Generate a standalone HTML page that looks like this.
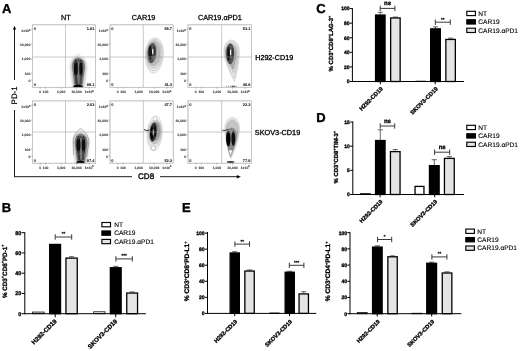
<!DOCTYPE html>
<html><head><meta charset="utf-8"><title>Figure</title>
<style>html,body{margin:0;padding:0;background:#fff}svg{display:block}</style></head>
<body>
<svg width="520" height="351" viewBox="0 0 520 351" font-family='"Liberation Sans", Arial, sans-serif' text-rendering="geometricPrecision">
<defs>
<filter id="b1" x="-50%" y="-50%" width="200%" height="200%"><feGaussianBlur stdDeviation="1.1"/></filter>
<filter id="b2" x="-50%" y="-50%" width="200%" height="200%"><feGaussianBlur stdDeviation="0.9"/></filter>
<filter id="b3" x="-50%" y="-50%" width="200%" height="200%"><feGaussianBlur stdDeviation="0.45"/></filter>
<filter id="b4" x="-50%" y="-50%" width="200%" height="200%"><feGaussianBlur stdDeviation="0.65"/></filter>
</defs>
<rect width="520" height="351" fill="#fff"/>
<g>
<text x="2.1" y="12.7" font-size="13" font-weight="bold" stroke="#000" stroke-width="0.35">A</text>
<text x="65.80" y="20.40" font-size="7.3" font-weight="normal" text-anchor="middle" fill="#000" stroke="#000" stroke-width="0.26" >NT</text>
<text x="143.60" y="20.40" font-size="7.3" font-weight="normal" text-anchor="middle" fill="#000" stroke="#000" stroke-width="0.26" >CAR19</text>
<text x="219.90" y="20.40" font-size="7.3" font-weight="normal" text-anchor="middle" fill="#000" stroke="#000" stroke-width="0.26" >CAR19.αPD1</text>
<text x="255.20" y="59.90" font-size="7.2" font-weight="normal" text-anchor="start" fill="#000" stroke="#000" stroke-width="0.3" >H292-CD19</text>
<text x="254.80" y="135.00" font-size="7.3" font-weight="normal" text-anchor="start" fill="#000" stroke="#000" stroke-width="0.3" >SKOV3-CD19</text>
<line x1="14.50" y1="29.00" x2="14.50" y2="80.00" stroke="#000" stroke-width="0.9" />
<line x1="14.50" y1="110.00" x2="14.50" y2="176.70" stroke="#000" stroke-width="0.9" />
<path d="M14.5,25.8 L12.9,29.6 L16.1,29.6 Z" fill="#000"/>
<line x1="14.05" y1="176.70" x2="132.00" y2="176.70" stroke="#000" stroke-width="0.9" />
<line x1="160.00" y1="176.70" x2="237.50" y2="176.70" stroke="#000" stroke-width="0.9" />
<path d="M240.8,176.7 L236.8,174.9 L236.8,178.5 Z" fill="#000"/>
<text transform="translate(17.1,95.4) rotate(-90)" font-size="7.9" text-anchor="middle" stroke="#000" stroke-width="0.2">PD-1</text>
<text x="146.10" y="179.30" font-size="8.1" font-weight="normal" text-anchor="middle" fill="#000" stroke="#000" stroke-width="0.35" >CD8</text>
<rect x="32.50" y="24.80" width="63.00" height="62.50" fill="#fff" stroke="#c2c2c2" stroke-width="0.7"/>
<clipPath id="cp1"><rect x="32.50" y="24.80" width="63.00" height="62.50"/></clipPath><g clip-path="url(#cp1)">
<g filter="url(#b1)"><path d="M74.6,87.3 L72.0,66.6 Q72.3,58.6 77.9,57.6 Q84.8,58.6 85.0,67.6 L82.2,87.3 Z" fill="#c0c0c0" stroke="#c0c0c0" stroke-width="3.4"/>
<path d="M75.4,59.6 L78.4,53.1 L81.4,59.6 Z" fill="#d8d8d8"/></g>
<g filter="url(#b4)"><path d="M74.6,87.3 L72.0,66.6 Q72.3,58.6 77.9,57.6 Q84.8,58.6 85.0,67.6 L82.2,87.3 Z" fill="#787878"/></g>
<g filter="url(#b4)">
<ellipse cx="75.9" cy="68.5" rx="2.0" ry="9.0" fill="#0a0a0a"/>
<ellipse cx="81.0" cy="68.8" rx="1.8" ry="9.0" fill="#0e0e0e"/>
<path d="M75.2,62.7 Q78.4,57.9 81.6,62.9" stroke="#4a4a4a" stroke-width="1.6" fill="none"/>
<path d="M75.8,74.5 L76.8,84.3" stroke="#3a3a3a" stroke-width="2.2" fill="none"/>
<path d="M81.0,74.5 L80.4,84.3" stroke="#444" stroke-width="2.0" fill="none"/>
</g>
<g filter="url(#b3)"><ellipse cx="78.0" cy="87.5" rx="5.2" ry="3.0" fill="#050505"/></g>
</g>
<rect x="32.50" y="24.80" width="63.00" height="62.50" fill="none" stroke="#c2c2c2" stroke-width="0.7"/>
<line x1="65.50" y1="24.80" x2="65.50" y2="87.30" stroke="#a0a0a0" stroke-width="0.55" />
<line x1="32.50" y1="57.00" x2="95.50" y2="57.00" stroke="#a0a0a0" stroke-width="0.55" />
<text x="33.70" y="29.80" font-size="3.9" font-weight="bold" text-anchor="start" fill="#303030" stroke="#303030" stroke-width="0.1" >0</text>
<text x="94.30" y="29.80" font-size="3.9" font-weight="bold" text-anchor="end" fill="#303030" stroke="#303030" stroke-width="0.1" >1.91</text>
<text x="33.70" y="86.30" font-size="3.9" font-weight="bold" text-anchor="start" fill="#303030" stroke="#303030" stroke-width="0.1" >0</text>
<text x="94.30" y="86.30" font-size="3.9" font-weight="bold" text-anchor="end" fill="#303030" stroke="#303030" stroke-width="0.1" >98.1</text>
<text x="30.30" y="32.00" font-size="3.4" font-weight="bold" text-anchor="end" fill="#444" stroke="#444" stroke-width="0.12">1×10<tspan dy="-1.2" font-size="2.4">5</tspan></text>
<text x="30.30" y="45.92" font-size="3.4" font-weight="bold" text-anchor="end" fill="#444" stroke="#444" stroke-width="0.12" >10,000</text>
<text x="30.30" y="60.11" font-size="3.4" font-weight="bold" text-anchor="end" fill="#444" stroke="#444" stroke-width="0.12" >1,000</text>
<text x="30.30" y="75.30" font-size="3.4" font-weight="bold" text-anchor="end" fill="#444" stroke="#444" stroke-width="0.12" >100</text>
<text x="30.30" y="82.17" font-size="3.4" font-weight="bold" text-anchor="end" fill="#444" stroke="#444" stroke-width="0.12" >0</text>
<line x1="30.90" y1="29.18" x2="32.50" y2="29.18" stroke="#777" stroke-width="0.5" />
<line x1="30.90" y1="44.17" x2="32.50" y2="44.17" stroke="#777" stroke-width="0.5" />
<line x1="30.90" y1="58.86" x2="32.50" y2="58.86" stroke="#777" stroke-width="0.5" />
<line x1="30.90" y1="73.24" x2="32.50" y2="73.24" stroke="#777" stroke-width="0.5" />
<line x1="30.90" y1="80.11" x2="32.50" y2="80.11" stroke="#777" stroke-width="0.5" />
<text x="40.19" y="92.75" font-size="3.4" font-weight="bold" text-anchor="middle" fill="#444" stroke="#444" stroke-width="0.12" >0</text>
<text x="45.60" y="92.75" font-size="3.4" font-weight="bold" text-anchor="middle" fill="#444" stroke="#444" stroke-width="0.12" >100</text>
<text x="61.17" y="92.75" font-size="3.4" font-weight="bold" text-anchor="middle" fill="#444" stroke="#444" stroke-width="0.12" >1,000</text>
<text x="76.60" y="92.75" font-size="3.4" font-weight="bold" text-anchor="middle" fill="#444" stroke="#444" stroke-width="0.12" >10,000</text>
<text x="93.61" y="92.75" font-size="3.4" font-weight="bold" text-anchor="end" fill="#444" stroke="#444" stroke-width="0.12">1×10<tspan dy="-1.2" font-size="2.4">5</tspan></text>
<line x1="40.19" y1="87.30" x2="40.19" y2="88.70" stroke="#777" stroke-width="0.5" />
<line x1="45.60" y1="87.30" x2="45.60" y2="88.70" stroke="#777" stroke-width="0.5" />
<line x1="61.17" y1="87.30" x2="61.17" y2="88.70" stroke="#777" stroke-width="0.5" />
<line x1="76.60" y1="87.30" x2="76.60" y2="88.70" stroke="#777" stroke-width="0.5" />
<line x1="89.20" y1="87.30" x2="89.20" y2="88.70" stroke="#777" stroke-width="0.5" />
<rect x="110.00" y="24.80" width="63.20" height="62.50" fill="#fff" stroke="#c2c2c2" stroke-width="0.7"/>
<clipPath id="cp2"><rect x="110.00" y="24.80" width="63.20" height="62.50"/></clipPath><g clip-path="url(#cp2)">
<path d="M145.30,53.50 C145.30,44.77 149.33,37.70 154.30,37.70 C159.27,37.70 163.30,44.77 163.30,53.50 C163.30,64.33 159.27,73.10 154.30,73.10 C149.33,73.10 145.30,64.33 145.30,53.50 Z" fill="#f3f3f3" stroke="#999" stroke-width="0.35" transform="rotate(3 154.3 55.6)"/>
<path d="M146.20,53.50 C146.20,45.66 149.78,39.30 154.20,39.30 C158.62,39.30 162.20,45.66 162.20,53.50 C162.20,63.00 158.62,70.70 154.20,70.70 C149.78,70.70 146.20,63.00 146.20,53.50 Z" fill="#ebebeb" stroke="#8c8c8c" stroke-width="0.35" transform="rotate(3 154.3 55.6)"/>
<path d="M147.00,53.30 C147.00,46.34 150.13,40.70 154.00,40.70 C157.87,40.70 161.00,46.34 161.00,53.30 C161.00,61.47 157.87,68.10 154.00,68.10 C150.13,68.10 147.00,61.47 147.00,53.30 Z" fill="#dedede" stroke="#808080" stroke-width="0.35" transform="rotate(3 154.3 55.6)"/>
<path d="M147.60,53.00 C147.60,46.81 150.29,41.80 153.60,41.80 C156.91,41.80 159.60,46.81 159.60,53.00 C159.60,59.96 156.91,65.60 153.60,65.60 C150.29,65.60 147.60,59.96 147.60,53.00 Z" fill="#bcbcbc" stroke="#707070" stroke-width="0.35" filter="url(#b3)" transform="rotate(3 154.3 55.6)"/>
<path d="M147.70,52.80 C147.70,47.39 149.63,43.00 152.00,43.00 C154.37,43.00 156.30,47.39 156.30,52.80 C156.30,58.54 154.37,63.20 152.00,63.20 C149.63,63.20 147.70,58.54 147.70,52.80 Z" fill="#484848" stroke="none" stroke-width="0.35" filter="url(#b4)" transform="rotate(5 152 52.8)"/>
<path d="M148.60,52.20 C148.60,48.55 149.32,45.60 150.20,45.60 C151.08,45.60 151.80,48.55 151.80,52.20 C151.80,56.07 151.08,59.20 150.20,59.20 C149.32,59.20 148.60,56.07 148.60,52.20 Z" fill="#000" stroke="none" stroke-width="0.35" filter="url(#b4)" />
<path d="M153.60,50.50 C153.60,48.01 154.00,46.00 154.50,46.00 C155.00,46.00 155.40,48.01 155.40,50.50 C155.40,53.54 155.00,56.00 154.50,56.00 C154.00,56.00 153.60,53.54 153.60,50.50 Z" fill="#1c1c1c" stroke="none" stroke-width="0.35" filter="url(#b4)" />
<path d="M149.30,52.60 C149.30,48.40 150.60,45.00 152.20,45.00 C153.80,45.00 155.10,48.40 155.10,52.60 C155.10,57.13 153.80,60.80 152.20,60.80 C150.60,60.80 149.30,57.13 149.30,52.60 Z" fill="none" stroke="#bbb" stroke-width="0.35" transform="rotate(5 152 52.8)" opacity="0.55"/>
<path d="M150.70,52.20 C150.70,49.44 151.46,47.20 152.40,47.20 C153.34,47.20 154.10,49.44 154.10,52.20 C154.10,55.29 153.34,57.80 152.40,57.80 C151.46,57.80 150.70,55.29 150.70,52.20 Z" fill="none" stroke="#ccc" stroke-width="0.3" transform="rotate(5 152 52.8)" opacity="0.5"/>
<g filter="url(#b3)"><ellipse cx="152.7" cy="51.4" rx="0.7" ry="2.8" fill="#f6f6f6"/><ellipse cx="153.2" cy="59" rx="0.4" ry="1.2" fill="#999"/></g>
</g>
<rect x="110.00" y="24.80" width="63.20" height="62.50" fill="none" stroke="#c2c2c2" stroke-width="0.7"/>
<line x1="143.30" y1="24.80" x2="143.30" y2="87.30" stroke="#a0a0a0" stroke-width="0.55" />
<line x1="110.00" y1="57.00" x2="173.20" y2="57.00" stroke="#a0a0a0" stroke-width="0.55" />
<text x="111.20" y="29.80" font-size="3.9" font-weight="bold" text-anchor="start" fill="#303030" stroke="#303030" stroke-width="0.1" >0</text>
<text x="172.00" y="29.80" font-size="3.9" font-weight="bold" text-anchor="end" fill="#303030" stroke="#303030" stroke-width="0.1" >68.7</text>
<text x="111.20" y="86.30" font-size="3.9" font-weight="bold" text-anchor="start" fill="#303030" stroke="#303030" stroke-width="0.1" >0</text>
<text x="172.00" y="86.30" font-size="3.9" font-weight="bold" text-anchor="end" fill="#303030" stroke="#303030" stroke-width="0.1" >31.3</text>
<text x="107.80" y="32.00" font-size="3.4" font-weight="bold" text-anchor="end" fill="#444" stroke="#444" stroke-width="0.12">1×10<tspan dy="-1.2" font-size="2.4">5</tspan></text>
<text x="107.80" y="45.92" font-size="3.4" font-weight="bold" text-anchor="end" fill="#444" stroke="#444" stroke-width="0.12" >10,000</text>
<text x="107.80" y="60.11" font-size="3.4" font-weight="bold" text-anchor="end" fill="#444" stroke="#444" stroke-width="0.12" >1,000</text>
<text x="107.80" y="75.30" font-size="3.4" font-weight="bold" text-anchor="end" fill="#444" stroke="#444" stroke-width="0.12" >100</text>
<text x="107.80" y="82.17" font-size="3.4" font-weight="bold" text-anchor="end" fill="#444" stroke="#444" stroke-width="0.12" >0</text>
<line x1="108.40" y1="29.18" x2="110.00" y2="29.18" stroke="#777" stroke-width="0.5" />
<line x1="108.40" y1="44.17" x2="110.00" y2="44.17" stroke="#777" stroke-width="0.5" />
<line x1="108.40" y1="58.86" x2="110.00" y2="58.86" stroke="#777" stroke-width="0.5" />
<line x1="108.40" y1="73.24" x2="110.00" y2="73.24" stroke="#777" stroke-width="0.5" />
<line x1="108.40" y1="80.11" x2="110.00" y2="80.11" stroke="#777" stroke-width="0.5" />
<text x="117.71" y="92.75" font-size="3.4" font-weight="bold" text-anchor="middle" fill="#444" stroke="#444" stroke-width="0.12" >0</text>
<text x="123.15" y="92.75" font-size="3.4" font-weight="bold" text-anchor="middle" fill="#444" stroke="#444" stroke-width="0.12" >100</text>
<text x="138.76" y="92.75" font-size="3.4" font-weight="bold" text-anchor="middle" fill="#444" stroke="#444" stroke-width="0.12" >1,000</text>
<text x="154.24" y="92.75" font-size="3.4" font-weight="bold" text-anchor="middle" fill="#444" stroke="#444" stroke-width="0.12" >10,000</text>
<text x="171.30" y="92.75" font-size="3.4" font-weight="bold" text-anchor="end" fill="#444" stroke="#444" stroke-width="0.12">1×10<tspan dy="-1.2" font-size="2.4">5</tspan></text>
<line x1="117.71" y1="87.30" x2="117.71" y2="88.70" stroke="#777" stroke-width="0.5" />
<line x1="123.15" y1="87.30" x2="123.15" y2="88.70" stroke="#777" stroke-width="0.5" />
<line x1="138.76" y1="87.30" x2="138.76" y2="88.70" stroke="#777" stroke-width="0.5" />
<line x1="154.24" y1="87.30" x2="154.24" y2="88.70" stroke="#777" stroke-width="0.5" />
<line x1="166.88" y1="87.30" x2="166.88" y2="88.70" stroke="#777" stroke-width="0.5" />
<rect x="188.00" y="24.80" width="63.60" height="62.50" fill="#fff" stroke="#c2c2c2" stroke-width="0.7"/>
<clipPath id="cp3"><rect x="188.00" y="24.80" width="63.60" height="62.50"/></clipPath><g clip-path="url(#cp3)">
<g transform="translate(0.9,0)">
<path d="M223.00,51.50 C223.00,45.15 226.45,40.00 230.70,40.00 C234.95,40.00 238.40,45.15 238.40,51.50 C238.40,65.00 234.60,78.50 233.40,81.50 C231.90,78.50 223.00,62.00 223.00,51.50 Z" fill="#f4f4f4" stroke="#999" stroke-width="0.35" />
<path d="M223.90,51.80 C223.90,46.17 226.90,41.60 230.60,41.60 C234.30,41.60 237.30,46.17 237.30,51.80 C237.30,63.59 234.40,75.00 233.20,78.00 C231.70,75.00 223.90,60.97 223.90,51.80 Z" fill="#ececec" stroke="#8c8c8c" stroke-width="0.35" />
<path d="M224.60,52.20 C224.60,47.23 227.20,43.20 230.40,43.20 C233.60,43.20 236.20,47.23 236.20,52.20 C236.20,61.56 234.00,70.00 232.80,73.00 C231.30,70.00 224.60,59.48 224.60,52.20 Z" fill="#d8d8d8" stroke="#808080" stroke-width="0.35" filter="url(#b3)" />
<path d="M225.00,53.00 C225.00,48.25 227.24,44.40 230.00,44.40 C232.76,44.40 235.00,48.25 235.00,53.00 C235.00,60.20 233.20,66.00 232.00,69.00 C230.50,66.00 225.00,58.60 225.00,53.00 Z" fill="#b0b0b0" stroke="#707070" stroke-width="0.35" filter="url(#b3)" />
<path d="M225.30,53.60 C225.30,48.08 227.09,43.60 229.30,43.60 C231.51,43.60 233.30,48.08 233.30,53.60 C233.30,59.45 231.51,64.20 229.30,64.20 C227.09,64.20 225.30,59.45 225.30,53.60 Z" fill="#484848" stroke="none" stroke-width="0.35" filter="url(#b4)" />
<path d="M226.10,53.80 C226.10,49.93 226.77,46.80 227.60,46.80 C228.43,46.80 229.10,49.93 229.10,53.80 C229.10,57.78 228.43,61.00 227.60,61.00 C226.77,61.00 226.10,57.78 226.10,53.80 Z" fill="#000" stroke="none" stroke-width="0.35" filter="url(#b4)" />
<path d="M230.70,52.60 C230.70,49.84 231.10,47.60 231.60,47.60 C232.10,47.60 232.50,49.84 232.50,52.60 C232.50,55.91 232.10,58.60 231.60,58.60 C231.10,58.60 230.70,55.91 230.70,52.60 Z" fill="#1c1c1c" stroke="none" stroke-width="0.35" filter="url(#b4)" />
<path d="M226.70,53.40 C226.70,49.09 227.91,45.60 229.40,45.60 C230.89,45.60 232.10,49.09 232.10,53.40 C232.10,58.04 230.89,61.80 229.40,61.80 C227.91,61.80 226.70,58.04 226.70,53.40 Z" fill="none" stroke="#bbb" stroke-width="0.35" opacity="0.55"/>
<path d="M228.00,53.00 C228.00,50.13 228.72,47.80 229.60,47.80 C230.48,47.80 231.20,50.13 231.20,53.00 C231.20,56.20 230.48,58.80 229.60,58.80 C228.72,58.80 228.00,56.20 228.00,53.00 Z" fill="none" stroke="#ccc" stroke-width="0.3" opacity="0.5"/>
<g filter="url(#b3)"><ellipse cx="229.7" cy="52.4" rx="0.7" ry="3.2" fill="#f6f6f6"/></g>
<g filter="url(#b3)"><path d="M225,86.2 L236,86.2" stroke="#777" stroke-width="0.8" stroke-dasharray="1.2 0.8"/><ellipse cx="232.5" cy="86.4" rx="2.2" ry="0.7" fill="#555"/></g>
</g>
</g>
<rect x="188.00" y="24.80" width="63.60" height="62.50" fill="none" stroke="#c2c2c2" stroke-width="0.7"/>
<line x1="221.60" y1="24.80" x2="221.60" y2="87.30" stroke="#a0a0a0" stroke-width="0.55" />
<line x1="188.00" y1="57.00" x2="251.60" y2="57.00" stroke="#a0a0a0" stroke-width="0.55" />
<text x="189.20" y="29.80" font-size="3.9" font-weight="bold" text-anchor="start" fill="#303030" stroke="#303030" stroke-width="0.1" >0</text>
<text x="250.40" y="29.80" font-size="3.9" font-weight="bold" text-anchor="end" fill="#303030" stroke="#303030" stroke-width="0.1" >53.1</text>
<text x="189.20" y="86.30" font-size="3.9" font-weight="bold" text-anchor="start" fill="#303030" stroke="#303030" stroke-width="0.1" >0</text>
<text x="250.40" y="86.30" font-size="3.9" font-weight="bold" text-anchor="end" fill="#303030" stroke="#303030" stroke-width="0.1" >46.9</text>
<text x="185.80" y="32.00" font-size="3.4" font-weight="bold" text-anchor="end" fill="#444" stroke="#444" stroke-width="0.12">1×10<tspan dy="-1.2" font-size="2.4">5</tspan></text>
<text x="185.80" y="45.92" font-size="3.4" font-weight="bold" text-anchor="end" fill="#444" stroke="#444" stroke-width="0.12" >10,000</text>
<text x="185.80" y="60.11" font-size="3.4" font-weight="bold" text-anchor="end" fill="#444" stroke="#444" stroke-width="0.12" >1,000</text>
<text x="185.80" y="75.30" font-size="3.4" font-weight="bold" text-anchor="end" fill="#444" stroke="#444" stroke-width="0.12" >100</text>
<text x="185.80" y="82.17" font-size="3.4" font-weight="bold" text-anchor="end" fill="#444" stroke="#444" stroke-width="0.12" >0</text>
<line x1="186.40" y1="29.18" x2="188.00" y2="29.18" stroke="#777" stroke-width="0.5" />
<line x1="186.40" y1="44.17" x2="188.00" y2="44.17" stroke="#777" stroke-width="0.5" />
<line x1="186.40" y1="58.86" x2="188.00" y2="58.86" stroke="#777" stroke-width="0.5" />
<line x1="186.40" y1="73.24" x2="188.00" y2="73.24" stroke="#777" stroke-width="0.5" />
<line x1="186.40" y1="80.11" x2="188.00" y2="80.11" stroke="#777" stroke-width="0.5" />
<text x="195.76" y="92.75" font-size="3.4" font-weight="bold" text-anchor="middle" fill="#444" stroke="#444" stroke-width="0.12" >0</text>
<text x="201.23" y="92.75" font-size="3.4" font-weight="bold" text-anchor="middle" fill="#444" stroke="#444" stroke-width="0.12" >100</text>
<text x="216.94" y="92.75" font-size="3.4" font-weight="bold" text-anchor="middle" fill="#444" stroke="#444" stroke-width="0.12" >1,000</text>
<text x="232.52" y="92.75" font-size="3.4" font-weight="bold" text-anchor="middle" fill="#444" stroke="#444" stroke-width="0.12" >10,000</text>
<text x="249.69" y="92.75" font-size="3.4" font-weight="bold" text-anchor="end" fill="#444" stroke="#444" stroke-width="0.12">1×10<tspan dy="-1.2" font-size="2.4">5</tspan></text>
<line x1="195.76" y1="87.30" x2="195.76" y2="88.70" stroke="#777" stroke-width="0.5" />
<line x1="201.23" y1="87.30" x2="201.23" y2="88.70" stroke="#777" stroke-width="0.5" />
<line x1="216.94" y1="87.30" x2="216.94" y2="88.70" stroke="#777" stroke-width="0.5" />
<line x1="232.52" y1="87.30" x2="232.52" y2="88.70" stroke="#777" stroke-width="0.5" />
<line x1="245.24" y1="87.30" x2="245.24" y2="88.70" stroke="#777" stroke-width="0.5" />
<rect x="32.50" y="100.90" width="63.00" height="62.30" fill="#fff" stroke="#c2c2c2" stroke-width="0.7"/>
<clipPath id="cp4"><rect x="32.50" y="100.90" width="63.00" height="62.30"/></clipPath><g clip-path="url(#cp4)">
<g filter="url(#b1)"><path d="M77.3,163.0 L74.7,142.5 Q75.0,134.5 80.4,133.5 Q87.3,134.5 87.5,143.5 L84.7,163.0 Z" fill="#c0c0c0" stroke="#c0c0c0" stroke-width="3.4"/>
<path d="M77.9,135.5 L80.9,129.0 L83.9,135.5 Z" fill="#d8d8d8"/></g>
<g filter="url(#b4)"><path d="M77.3,163.0 L74.7,142.5 Q75.0,134.5 80.4,133.5 Q87.3,134.5 87.5,143.5 L84.7,163.0 Z" fill="#787878"/></g>
<g filter="url(#b4)">
<ellipse cx="78.4" cy="144.8" rx="2.0" ry="8.8" fill="#0a0a0a"/>
<ellipse cx="83.5" cy="145.1" rx="1.8" ry="8.8" fill="#0e0e0e"/>
<path d="M77.7,139.2 Q80.9,134.4 84.1,139.4" stroke="#4a4a4a" stroke-width="1.6" fill="none"/>
<path d="M78.3,150.5 L79.3,160.0" stroke="#3a3a3a" stroke-width="2.2" fill="none"/>
<path d="M83.5,150.5 L82.9,160.0" stroke="#444" stroke-width="2.0" fill="none"/>
</g>
<g filter="url(#b3)"><ellipse cx="80.3" cy="163.2" rx="4.0" ry="2.8" fill="#050505"/></g>
<path d="M73.5,155.0 L73.3,139.5 Q74.7,132.5 80.4,128.4 Q88.0,132.5 88.9,141.5 L86.7,157.0" fill="none" stroke="#555" stroke-width="0.4"/>
</g>
<rect x="32.50" y="100.90" width="63.00" height="62.30" fill="none" stroke="#c2c2c2" stroke-width="0.7"/>
<line x1="65.50" y1="100.90" x2="65.50" y2="163.20" stroke="#a0a0a0" stroke-width="0.55" />
<line x1="32.50" y1="132.00" x2="95.50" y2="132.00" stroke="#a0a0a0" stroke-width="0.55" />
<text x="33.70" y="105.90" font-size="3.9" font-weight="bold" text-anchor="start" fill="#303030" stroke="#303030" stroke-width="0.1" >0</text>
<text x="94.30" y="105.90" font-size="3.9" font-weight="bold" text-anchor="end" fill="#303030" stroke="#303030" stroke-width="0.1" >2.63</text>
<text x="33.70" y="162.20" font-size="3.9" font-weight="bold" text-anchor="start" fill="#303030" stroke="#303030" stroke-width="0.1" >0</text>
<text x="94.30" y="162.20" font-size="3.9" font-weight="bold" text-anchor="end" fill="#303030" stroke="#303030" stroke-width="0.1" >97.4</text>
<text x="30.30" y="108.10" font-size="3.4" font-weight="bold" text-anchor="end" fill="#444" stroke="#444" stroke-width="0.12">1×10<tspan dy="-1.2" font-size="2.4">5</tspan></text>
<text x="30.30" y="121.96" font-size="3.4" font-weight="bold" text-anchor="end" fill="#444" stroke="#444" stroke-width="0.12" >10,000</text>
<text x="30.30" y="136.10" font-size="3.4" font-weight="bold" text-anchor="end" fill="#444" stroke="#444" stroke-width="0.12" >1,000</text>
<text x="30.30" y="151.24" font-size="3.4" font-weight="bold" text-anchor="end" fill="#444" stroke="#444" stroke-width="0.12" >100</text>
<text x="30.30" y="158.09" font-size="3.4" font-weight="bold" text-anchor="end" fill="#444" stroke="#444" stroke-width="0.12" >0</text>
<line x1="30.90" y1="105.26" x2="32.50" y2="105.26" stroke="#777" stroke-width="0.5" />
<line x1="30.90" y1="120.21" x2="32.50" y2="120.21" stroke="#777" stroke-width="0.5" />
<line x1="30.90" y1="134.85" x2="32.50" y2="134.85" stroke="#777" stroke-width="0.5" />
<line x1="30.90" y1="149.18" x2="32.50" y2="149.18" stroke="#777" stroke-width="0.5" />
<line x1="30.90" y1="156.04" x2="32.50" y2="156.04" stroke="#777" stroke-width="0.5" />
<text x="40.19" y="168.65" font-size="3.4" font-weight="bold" text-anchor="middle" fill="#444" stroke="#444" stroke-width="0.12" >0</text>
<text x="45.60" y="168.65" font-size="3.4" font-weight="bold" text-anchor="middle" fill="#444" stroke="#444" stroke-width="0.12" >100</text>
<text x="61.17" y="168.65" font-size="3.4" font-weight="bold" text-anchor="middle" fill="#444" stroke="#444" stroke-width="0.12" >1,000</text>
<text x="76.60" y="168.65" font-size="3.4" font-weight="bold" text-anchor="middle" fill="#444" stroke="#444" stroke-width="0.12" >10,000</text>
<text x="93.61" y="168.65" font-size="3.4" font-weight="bold" text-anchor="end" fill="#444" stroke="#444" stroke-width="0.12">1×10<tspan dy="-1.2" font-size="2.4">5</tspan></text>
<line x1="40.19" y1="163.20" x2="40.19" y2="164.60" stroke="#777" stroke-width="0.5" />
<line x1="45.60" y1="163.20" x2="45.60" y2="164.60" stroke="#777" stroke-width="0.5" />
<line x1="61.17" y1="163.20" x2="61.17" y2="164.60" stroke="#777" stroke-width="0.5" />
<line x1="76.60" y1="163.20" x2="76.60" y2="164.60" stroke="#777" stroke-width="0.5" />
<line x1="89.20" y1="163.20" x2="89.20" y2="164.60" stroke="#777" stroke-width="0.5" />
<rect x="110.00" y="100.90" width="63.20" height="62.30" fill="#fff" stroke="#c2c2c2" stroke-width="0.7"/>
<clipPath id="cp5"><rect x="110.00" y="100.90" width="63.20" height="62.30"/></clipPath><g clip-path="url(#cp5)">
<path d="M147.10,133.20 C147.10,123.65 150.50,115.90 154.70,115.90 C158.90,115.90 162.30,123.65 162.30,133.20 C162.30,142.87 158.90,150.70 154.70,150.70 C150.50,150.70 147.10,142.87 147.10,133.20 Z" fill="#f7f7f7" stroke="#aaa" stroke-width="0.35" transform="rotate(4 154.6 133)"/>
<path d="M147.90,133.00 C147.90,125.27 150.94,119.00 154.70,119.00 C158.46,119.00 161.50,125.27 161.50,133.00 C161.50,141.01 158.46,147.50 154.70,147.50 C150.94,147.50 147.90,141.01 147.90,133.00 Z" fill="#e9e9e9" stroke="#9a9a9a" stroke-width="0.35" transform="rotate(4 154.6 133)"/>
<path d="M149.10,132.20 C149.10,125.85 151.70,120.70 154.90,120.70 C158.10,120.70 160.70,125.85 160.70,132.20 C160.70,138.72 158.10,144.00 154.90,144.00 C151.70,144.00 149.10,138.72 149.10,132.20 Z" fill="#c4c4c4" stroke="#888" stroke-width="0.35" filter="url(#b3)" transform="rotate(4 154.6 133)"/>
<path d="M151.40,131.00 C151.40,126.03 153.37,122.00 155.80,122.00 C158.23,122.00 160.20,126.03 160.20,131.00 C160.20,136.25 158.23,140.50 155.80,140.50 C153.37,140.50 151.40,136.25 151.40,131.00 Z" fill="#9c9c9c" stroke="none" stroke-width="0.35" filter="url(#b4)" transform="rotate(4 154.6 133)"/>
<path d="M149.80,132.00 C149.80,126.70 151.37,122.40 153.30,122.40 C155.23,122.40 156.80,126.70 156.80,132.00 C156.80,137.41 155.23,141.80 153.30,141.80 C151.37,141.80 149.80,137.41 149.80,132.00 Z" fill="#2e2e2e" stroke="none" stroke-width="0.35" filter="url(#b4)" transform="rotate(6 153.5 132)"/>
<path d="M150.30,133.00 C150.30,129.35 151.02,126.40 151.90,126.40 C152.78,126.40 153.50,129.35 153.50,133.00 C153.50,136.65 152.78,139.60 151.90,139.60 C151.02,139.60 150.30,136.65 150.30,133.00 Z" fill="#000" stroke="none" stroke-width="0.35" filter="url(#b4)" />
<path d="M154.00,131.00 C154.00,128.02 154.45,125.60 155.00,125.60 C155.55,125.60 156.00,128.02 156.00,131.00 C156.00,134.20 155.55,136.80 155.00,136.80 C154.45,136.80 154.00,134.20 154.00,131.00 Z" fill="#0c0c0c" stroke="none" stroke-width="0.35" filter="url(#b4)" />
<g filter="url(#b3)"><ellipse cx="153.2" cy="132.4" rx="0.5" ry="3.4" fill="#f4f4f4"/></g>
<ellipse cx="153.2" cy="148.0" rx="2.3" ry="2.4" fill="#fdfdfd" stroke="#777" stroke-width="0.4"/>
<ellipse cx="155.2" cy="118.7" rx="2.1" ry="2.1" fill="#f8f8f8" stroke="#999" stroke-width="0.35"/>
<path d="M143.9,129.5 Q146,131.2 149.2,130.2" stroke="#111" stroke-width="0.9" fill="none"/>
</g>
<rect x="110.00" y="100.90" width="63.20" height="62.30" fill="none" stroke="#c2c2c2" stroke-width="0.7"/>
<line x1="143.30" y1="100.90" x2="143.30" y2="163.20" stroke="#a0a0a0" stroke-width="0.55" />
<line x1="110.00" y1="132.00" x2="173.20" y2="132.00" stroke="#a0a0a0" stroke-width="0.55" />
<text x="111.20" y="105.90" font-size="3.9" font-weight="bold" text-anchor="start" fill="#303030" stroke="#303030" stroke-width="0.1" >0</text>
<text x="172.00" y="105.90" font-size="3.9" font-weight="bold" text-anchor="end" fill="#303030" stroke="#303030" stroke-width="0.1" >47.7</text>
<text x="111.20" y="162.20" font-size="3.9" font-weight="bold" text-anchor="start" fill="#303030" stroke="#303030" stroke-width="0.1" >0</text>
<text x="172.00" y="162.20" font-size="3.9" font-weight="bold" text-anchor="end" fill="#303030" stroke="#303030" stroke-width="0.1" >52.3</text>
<text x="107.80" y="108.10" font-size="3.4" font-weight="bold" text-anchor="end" fill="#444" stroke="#444" stroke-width="0.12">1×10<tspan dy="-1.2" font-size="2.4">5</tspan></text>
<text x="107.80" y="121.96" font-size="3.4" font-weight="bold" text-anchor="end" fill="#444" stroke="#444" stroke-width="0.12" >10,000</text>
<text x="107.80" y="136.10" font-size="3.4" font-weight="bold" text-anchor="end" fill="#444" stroke="#444" stroke-width="0.12" >1,000</text>
<text x="107.80" y="151.24" font-size="3.4" font-weight="bold" text-anchor="end" fill="#444" stroke="#444" stroke-width="0.12" >100</text>
<text x="107.80" y="158.09" font-size="3.4" font-weight="bold" text-anchor="end" fill="#444" stroke="#444" stroke-width="0.12" >0</text>
<line x1="108.40" y1="105.26" x2="110.00" y2="105.26" stroke="#777" stroke-width="0.5" />
<line x1="108.40" y1="120.21" x2="110.00" y2="120.21" stroke="#777" stroke-width="0.5" />
<line x1="108.40" y1="134.85" x2="110.00" y2="134.85" stroke="#777" stroke-width="0.5" />
<line x1="108.40" y1="149.18" x2="110.00" y2="149.18" stroke="#777" stroke-width="0.5" />
<line x1="108.40" y1="156.04" x2="110.00" y2="156.04" stroke="#777" stroke-width="0.5" />
<text x="117.71" y="168.65" font-size="3.4" font-weight="bold" text-anchor="middle" fill="#444" stroke="#444" stroke-width="0.12" >0</text>
<text x="123.15" y="168.65" font-size="3.4" font-weight="bold" text-anchor="middle" fill="#444" stroke="#444" stroke-width="0.12" >100</text>
<text x="138.76" y="168.65" font-size="3.4" font-weight="bold" text-anchor="middle" fill="#444" stroke="#444" stroke-width="0.12" >1,000</text>
<text x="154.24" y="168.65" font-size="3.4" font-weight="bold" text-anchor="middle" fill="#444" stroke="#444" stroke-width="0.12" >10,000</text>
<text x="171.30" y="168.65" font-size="3.4" font-weight="bold" text-anchor="end" fill="#444" stroke="#444" stroke-width="0.12">1×10<tspan dy="-1.2" font-size="2.4">5</tspan></text>
<line x1="117.71" y1="163.20" x2="117.71" y2="164.60" stroke="#777" stroke-width="0.5" />
<line x1="123.15" y1="163.20" x2="123.15" y2="164.60" stroke="#777" stroke-width="0.5" />
<line x1="138.76" y1="163.20" x2="138.76" y2="164.60" stroke="#777" stroke-width="0.5" />
<line x1="154.24" y1="163.20" x2="154.24" y2="164.60" stroke="#777" stroke-width="0.5" />
<line x1="166.88" y1="163.20" x2="166.88" y2="164.60" stroke="#777" stroke-width="0.5" />
<rect x="188.00" y="100.90" width="63.60" height="62.30" fill="#fff" stroke="#c2c2c2" stroke-width="0.7"/>
<clipPath id="cp6"><rect x="188.00" y="100.90" width="63.60" height="62.30"/></clipPath><g clip-path="url(#cp6)">
<path d="M224.80,127.50 C224.80,121.81 228.11,117.20 232.20,117.20 C236.29,117.20 239.60,121.81 239.60,127.50 C239.60,141.59 232.00,155.80 230.80,158.80 C229.30,155.80 224.80,138.46 224.80,127.50 Z" fill="#f7f7f7" stroke="#a8a8a8" stroke-width="0.35" />
<path d="M225.90,128.00 C225.90,122.86 228.77,118.70 232.30,118.70 C235.83,118.70 238.70,122.86 238.70,128.00 C238.70,141.23 231.90,154.40 230.70,157.40 C229.20,154.40 225.90,138.29 225.90,128.00 Z" fill="#e8e8e8" stroke="#949494" stroke-width="0.35" />
<path d="M226.70,129.00 C226.70,124.25 229.21,120.40 232.30,120.40 C235.39,120.40 237.90,124.25 237.90,129.00 C237.90,141.15 231.80,153.00 230.60,156.00 C229.10,153.00 226.70,138.45 226.70,129.00 Z" fill="#c4c4c4" stroke="#808080" stroke-width="0.35" filter="url(#b3)" />
<path d="M226.50,134.50 C226.50,130.91 228.74,128.00 231.50,128.00 C234.26,128.00 236.50,130.91 236.50,134.50 C236.50,143.72 231.70,152.00 230.50,155.00 C229.00,152.00 226.50,141.68 226.50,134.50 Z" fill="#8a8a8a" stroke="#666" stroke-width="0.35" filter="url(#b4)" />
<g filter="url(#b4)"><ellipse cx="228.3" cy="138.8" rx="2.2" ry="7.8" fill="#060606"/><ellipse cx="233.3" cy="138.4" rx="1.9" ry="7.4" fill="#0e0e0e"/></g>
<path d="M228.6,150.5 L230.5,156.2 L232.6,150.5 Q230.5,149.2 228.6,150.5 Z" fill="#fbfbfb" stroke="#666" stroke-width="0.4"/>
<g filter="url(#b3)"><ellipse cx="230.6" cy="162.0" rx="3.8" ry="0.9" fill="#333"/></g>
<path d="M222.3,130.2 Q225,131 228.2,129.4" stroke="#222" stroke-width="0.9" fill="none"/>
</g>
<rect x="188.00" y="100.90" width="63.60" height="62.30" fill="none" stroke="#c2c2c2" stroke-width="0.7"/>
<line x1="221.60" y1="100.90" x2="221.60" y2="163.20" stroke="#a0a0a0" stroke-width="0.55" />
<line x1="188.00" y1="132.00" x2="251.60" y2="132.00" stroke="#a0a0a0" stroke-width="0.55" />
<text x="189.20" y="105.90" font-size="3.9" font-weight="bold" text-anchor="start" fill="#303030" stroke="#303030" stroke-width="0.1" >0</text>
<text x="250.40" y="105.90" font-size="3.9" font-weight="bold" text-anchor="end" fill="#303030" stroke="#303030" stroke-width="0.1" >22.2</text>
<text x="189.20" y="162.20" font-size="3.9" font-weight="bold" text-anchor="start" fill="#303030" stroke="#303030" stroke-width="0.1" >0</text>
<text x="250.40" y="162.20" font-size="3.9" font-weight="bold" text-anchor="end" fill="#303030" stroke="#303030" stroke-width="0.1" >77.8</text>
<text x="185.80" y="108.10" font-size="3.4" font-weight="bold" text-anchor="end" fill="#444" stroke="#444" stroke-width="0.12">1×10<tspan dy="-1.2" font-size="2.4">5</tspan></text>
<text x="185.80" y="121.96" font-size="3.4" font-weight="bold" text-anchor="end" fill="#444" stroke="#444" stroke-width="0.12" >10,000</text>
<text x="185.80" y="136.10" font-size="3.4" font-weight="bold" text-anchor="end" fill="#444" stroke="#444" stroke-width="0.12" >1,000</text>
<text x="185.80" y="151.24" font-size="3.4" font-weight="bold" text-anchor="end" fill="#444" stroke="#444" stroke-width="0.12" >100</text>
<text x="185.80" y="158.09" font-size="3.4" font-weight="bold" text-anchor="end" fill="#444" stroke="#444" stroke-width="0.12" >0</text>
<line x1="186.40" y1="105.26" x2="188.00" y2="105.26" stroke="#777" stroke-width="0.5" />
<line x1="186.40" y1="120.21" x2="188.00" y2="120.21" stroke="#777" stroke-width="0.5" />
<line x1="186.40" y1="134.85" x2="188.00" y2="134.85" stroke="#777" stroke-width="0.5" />
<line x1="186.40" y1="149.18" x2="188.00" y2="149.18" stroke="#777" stroke-width="0.5" />
<line x1="186.40" y1="156.04" x2="188.00" y2="156.04" stroke="#777" stroke-width="0.5" />
<text x="195.76" y="168.65" font-size="3.4" font-weight="bold" text-anchor="middle" fill="#444" stroke="#444" stroke-width="0.12" >0</text>
<text x="201.23" y="168.65" font-size="3.4" font-weight="bold" text-anchor="middle" fill="#444" stroke="#444" stroke-width="0.12" >100</text>
<text x="216.94" y="168.65" font-size="3.4" font-weight="bold" text-anchor="middle" fill="#444" stroke="#444" stroke-width="0.12" >1,000</text>
<text x="232.52" y="168.65" font-size="3.4" font-weight="bold" text-anchor="middle" fill="#444" stroke="#444" stroke-width="0.12" >10,000</text>
<text x="249.69" y="168.65" font-size="3.4" font-weight="bold" text-anchor="end" fill="#444" stroke="#444" stroke-width="0.12">1×10<tspan dy="-1.2" font-size="2.4">5</tspan></text>
<line x1="195.76" y1="163.20" x2="195.76" y2="164.60" stroke="#777" stroke-width="0.5" />
<line x1="201.23" y1="163.20" x2="201.23" y2="164.60" stroke="#777" stroke-width="0.5" />
<line x1="216.94" y1="163.20" x2="216.94" y2="164.60" stroke="#777" stroke-width="0.5" />
<line x1="232.52" y1="163.20" x2="232.52" y2="164.60" stroke="#777" stroke-width="0.5" />
<line x1="245.24" y1="163.20" x2="245.24" y2="164.60" stroke="#777" stroke-width="0.5" />
<text x="1.7" y="212.3" font-size="13" font-weight="bold" stroke="#000" stroke-width="0.35">B</text>
<rect x="32.45" y="312.07" width="11.70" height="1.62" fill="#fff" stroke="#222" stroke-width="0.9"/>
<rect x="49.65" y="244.44" width="10.90" height="69.26" fill="#000" stroke="#000" stroke-width="1.3"/>
<line x1="71.60" y1="257.51" x2="71.60" y2="256.70" stroke="#000" stroke-width="0.6" />
<line x1="69.00" y1="256.70" x2="74.20" y2="256.70" stroke="#000" stroke-width="0.6" />
<rect x="65.95" y="258.11" width="11.30" height="55.59" fill="#e4e4e4" stroke="#000" stroke-width="1.3"/>
<rect x="93.65" y="311.77" width="11.30" height="1.93" fill="#fff" stroke="#222" stroke-width="0.9"/>
<line x1="115.75" y1="267.12" x2="115.75" y2="266.31" stroke="#000" stroke-width="0.6" />
<line x1="113.15" y1="266.31" x2="118.35" y2="266.31" stroke="#000" stroke-width="0.6" />
<rect x="110.35" y="267.73" width="10.80" height="45.97" fill="#000" stroke="#000" stroke-width="1.3"/>
<line x1="132.15" y1="292.44" x2="132.15" y2="291.93" stroke="#000" stroke-width="0.6" />
<line x1="129.55" y1="291.93" x2="134.75" y2="291.93" stroke="#000" stroke-width="0.6" />
<rect x="126.75" y="293.04" width="10.80" height="20.66" fill="#e4e4e4" stroke="#000" stroke-width="1.3"/>
<line x1="24.80" y1="232.20" x2="24.80" y2="314.20" stroke="#000" stroke-width="1.0" />
<line x1="24.30" y1="313.70" x2="145.90" y2="313.70" stroke="#000" stroke-width="1.0" />
<line x1="21.50" y1="313.70" x2="24.80" y2="313.70" stroke="#000" stroke-width="1.0" />
<text x="21.30" y="315.64" font-size="5.4" font-weight="bold" text-anchor="end" fill="#000" stroke="#000" stroke-width="0.3" >0</text>
<line x1="21.50" y1="293.45" x2="24.80" y2="293.45" stroke="#000" stroke-width="1.0" />
<text x="21.30" y="295.39" font-size="5.4" font-weight="bold" text-anchor="end" fill="#000" stroke="#000" stroke-width="0.3" >20</text>
<line x1="21.50" y1="273.20" x2="24.80" y2="273.20" stroke="#000" stroke-width="1.0" />
<text x="21.30" y="275.14" font-size="5.4" font-weight="bold" text-anchor="end" fill="#000" stroke="#000" stroke-width="0.3" >40</text>
<line x1="21.50" y1="252.95" x2="24.80" y2="252.95" stroke="#000" stroke-width="1.0" />
<text x="21.30" y="254.89" font-size="5.4" font-weight="bold" text-anchor="end" fill="#000" stroke="#000" stroke-width="0.3" >60</text>
<line x1="21.50" y1="232.70" x2="24.80" y2="232.70" stroke="#000" stroke-width="1.0" />
<text x="21.30" y="234.64" font-size="5.4" font-weight="bold" text-anchor="end" fill="#000" stroke="#000" stroke-width="0.3" >80</text>
<line x1="55.20" y1="313.70" x2="55.20" y2="317.30" stroke="#000" stroke-width="1.0" />
<text transform="translate(57.20,321.70) rotate(-45)" font-size="6.2" font-weight="bold" text-anchor="end" stroke="#000" stroke-width="0.3">H292-CD19</text>
<line x1="115.70" y1="313.70" x2="115.70" y2="317.30" stroke="#000" stroke-width="1.0" />
<text transform="translate(117.70,321.70) rotate(-45)" font-size="6.2" font-weight="bold" text-anchor="end" stroke="#000" stroke-width="0.3">SKOV3-CD19</text>
<text transform="translate(6.60,271.30) rotate(-90)" font-size="6.3" font-weight="bold" text-anchor="middle" stroke="#000" stroke-width="0.3">% CD3<tspan dy="-2.2" font-size="3.8">+</tspan><tspan dy="2.2">CD8</tspan><tspan dy="-2.2" font-size="3.8">+</tspan><tspan dy="2.2">PD-1</tspan><tspan dy="-2.2" font-size="3.8">+</tspan></text>
<line x1="55.20" y1="237.00" x2="71.70" y2="237.00" stroke="#3a3a3a" stroke-width="1.0" />
<line x1="55.20" y1="234.30" x2="55.20" y2="239.70" stroke="#3a3a3a" stroke-width="1.0" />
<line x1="71.70" y1="234.30" x2="71.70" y2="239.70" stroke="#3a3a3a" stroke-width="1.0" />
<text x="63.45" y="235.40" font-size="4.4" font-weight="bold" text-anchor="middle" fill="#222" stroke="#222" stroke-width="0.3" >**</text>
<line x1="115.90" y1="258.90" x2="132.30" y2="258.90" stroke="#3a3a3a" stroke-width="1.0" />
<line x1="115.90" y1="256.20" x2="115.90" y2="261.60" stroke="#3a3a3a" stroke-width="1.0" />
<line x1="132.30" y1="256.20" x2="132.30" y2="261.60" stroke="#3a3a3a" stroke-width="1.0" />
<text x="124.10" y="257.30" font-size="4.4" font-weight="bold" text-anchor="middle" fill="#222" stroke="#222" stroke-width="0.3" >***</text>
<rect x="101.90" y="222.50" width="8.60" height="4.30" fill="#fff" stroke="#000" stroke-width="1.15"/>
<text x="114.20" y="226.95" font-size="6.6" font-weight="normal" text-anchor="start" fill="#000" stroke="#000" stroke-width="0.12" >NT</text>
<rect x="101.90" y="230.95" width="8.60" height="4.30" fill="#000" stroke="#000" stroke-width="1.15"/>
<text x="114.20" y="235.40" font-size="6.6" font-weight="normal" text-anchor="start" fill="#000" stroke="#000" stroke-width="0.12" >CAR19</text>
<rect x="101.90" y="239.40" width="8.60" height="4.30" fill="#e4e4e4" stroke="#000" stroke-width="1.15"/>
<text x="114.20" y="243.85" font-size="6.6" font-weight="normal" text-anchor="start" fill="#000" stroke="#000" stroke-width="0.12" >CAR19.αPD1</text>
<text x="182.1" y="212.3" font-size="13" font-weight="bold" stroke="#000" stroke-width="0.35">E</text>
<line x1="234.75" y1="252.37" x2="234.75" y2="251.73" stroke="#000" stroke-width="0.6" />
<line x1="232.15" y1="251.73" x2="237.35" y2="251.73" stroke="#000" stroke-width="0.6" />
<rect x="230.15" y="252.97" width="9.20" height="60.43" fill="#000" stroke="#000" stroke-width="1.3"/>
<line x1="249.55" y1="270.44" x2="249.55" y2="269.96" stroke="#000" stroke-width="0.6" />
<line x1="246.95" y1="269.96" x2="252.15" y2="269.96" stroke="#000" stroke-width="0.6" />
<rect x="244.85" y="271.04" width="9.40" height="42.36" fill="#e4e4e4" stroke="#000" stroke-width="1.3"/>
<rect x="269.85" y="313.00" width="9.30" height="0.40" fill="#fff" stroke="#222" stroke-width="0.9"/>
<line x1="289.75" y1="271.64" x2="289.75" y2="271.24" stroke="#000" stroke-width="0.6" />
<line x1="287.15" y1="271.24" x2="292.35" y2="271.24" stroke="#000" stroke-width="0.6" />
<rect x="285.15" y="272.24" width="9.20" height="41.16" fill="#000" stroke="#000" stroke-width="1.3"/>
<line x1="303.75" y1="293.32" x2="303.75" y2="291.72" stroke="#000" stroke-width="0.6" />
<line x1="301.15" y1="291.72" x2="306.35" y2="291.72" stroke="#000" stroke-width="0.6" />
<rect x="299.05" y="293.93" width="9.40" height="19.48" fill="#e4e4e4" stroke="#000" stroke-width="1.3"/>
<line x1="207.50" y1="232.00" x2="207.50" y2="313.90" stroke="#000" stroke-width="1.0" />
<line x1="207.00" y1="313.40" x2="316.30" y2="313.40" stroke="#000" stroke-width="1.0" />
<line x1="204.80" y1="313.40" x2="207.50" y2="313.40" stroke="#000" stroke-width="1.0" />
<text x="204.60" y="315.20" font-size="5.0" font-weight="bold" text-anchor="end" fill="#000" stroke="#000" stroke-width="0.3" >0</text>
<line x1="204.80" y1="297.34" x2="207.50" y2="297.34" stroke="#000" stroke-width="1.0" />
<text x="204.60" y="299.14" font-size="5.0" font-weight="bold" text-anchor="end" fill="#000" stroke="#000" stroke-width="0.3" >20</text>
<line x1="204.80" y1="281.28" x2="207.50" y2="281.28" stroke="#000" stroke-width="1.0" />
<text x="204.60" y="283.08" font-size="5.0" font-weight="bold" text-anchor="end" fill="#000" stroke="#000" stroke-width="0.3" >40</text>
<line x1="204.80" y1="265.22" x2="207.50" y2="265.22" stroke="#000" stroke-width="1.0" />
<text x="204.60" y="267.02" font-size="5.0" font-weight="bold" text-anchor="end" fill="#000" stroke="#000" stroke-width="0.3" >60</text>
<line x1="204.80" y1="249.16" x2="207.50" y2="249.16" stroke="#000" stroke-width="1.0" />
<text x="204.60" y="250.96" font-size="5.0" font-weight="bold" text-anchor="end" fill="#000" stroke="#000" stroke-width="0.3" >80</text>
<line x1="204.80" y1="233.10" x2="207.50" y2="233.10" stroke="#000" stroke-width="1.0" />
<text x="204.60" y="234.90" font-size="5.0" font-weight="bold" text-anchor="end" fill="#000" stroke="#000" stroke-width="0.3" >100</text>
<line x1="234.70" y1="313.40" x2="234.70" y2="316.20" stroke="#000" stroke-width="1.0" />
<text transform="translate(237.70,322.00) rotate(-45)" font-size="5.7" font-weight="bold" text-anchor="end" stroke="#000" stroke-width="0.3">H292-CD19</text>
<line x1="289.50" y1="313.40" x2="289.50" y2="316.20" stroke="#000" stroke-width="1.0" />
<text transform="translate(292.50,322.00) rotate(-45)" font-size="5.7" font-weight="bold" text-anchor="end" stroke="#000" stroke-width="0.3">SKOV3-CD19</text>
<text transform="translate(189.00,271.40) rotate(-90)" font-size="6.6" font-weight="bold" text-anchor="middle" stroke="#000" stroke-width="0.3">% CD3<tspan dy="-2.2" font-size="3.8">+</tspan><tspan dy="2.2">CD8</tspan><tspan dy="-2.2" font-size="3.8">+</tspan><tspan dy="2.2">PD-L1</tspan><tspan dy="-2.2" font-size="3.8">+</tspan></text>
<line x1="234.90" y1="244.10" x2="249.50" y2="244.10" stroke="#3a3a3a" stroke-width="1.0" />
<line x1="234.90" y1="241.40" x2="234.90" y2="246.80" stroke="#3a3a3a" stroke-width="1.0" />
<line x1="249.50" y1="241.40" x2="249.50" y2="246.80" stroke="#3a3a3a" stroke-width="1.0" />
<text x="242.20" y="242.50" font-size="4.4" font-weight="bold" text-anchor="middle" fill="#222" stroke="#222" stroke-width="0.3" >**</text>
<line x1="289.30" y1="265.30" x2="303.90" y2="265.30" stroke="#3a3a3a" stroke-width="1.0" />
<line x1="289.30" y1="262.60" x2="289.30" y2="268.00" stroke="#3a3a3a" stroke-width="1.0" />
<line x1="303.90" y1="262.60" x2="303.90" y2="268.00" stroke="#3a3a3a" stroke-width="1.0" />
<text x="296.60" y="263.70" font-size="4.4" font-weight="bold" text-anchor="middle" fill="#222" stroke="#222" stroke-width="0.3" >***</text>
<rect x="357.35" y="312.48" width="9.80" height="1.22" fill="#fff" stroke="#222" stroke-width="0.9"/>
<line x1="377.35" y1="246.47" x2="377.35" y2="245.82" stroke="#000" stroke-width="0.6" />
<line x1="374.75" y1="245.82" x2="379.95" y2="245.82" stroke="#000" stroke-width="0.6" />
<rect x="372.55" y="247.07" width="9.60" height="66.63" fill="#000" stroke="#000" stroke-width="1.3"/>
<line x1="392.55" y1="256.19" x2="392.55" y2="255.87" stroke="#000" stroke-width="0.6" />
<line x1="389.95" y1="255.87" x2="395.15" y2="255.87" stroke="#000" stroke-width="0.6" />
<rect x="387.85" y="256.79" width="9.40" height="56.91" fill="#e4e4e4" stroke="#000" stroke-width="1.3"/>
<rect x="412.15" y="313.29" width="9.80" height="0.41" fill="#fff" stroke="#222" stroke-width="0.9"/>
<line x1="431.65" y1="262.67" x2="431.65" y2="262.10" stroke="#000" stroke-width="0.6" />
<line x1="429.05" y1="262.10" x2="434.25" y2="262.10" stroke="#000" stroke-width="0.6" />
<rect x="426.75" y="263.27" width="9.80" height="50.43" fill="#000" stroke="#000" stroke-width="1.3"/>
<line x1="447.05" y1="272.39" x2="447.05" y2="271.82" stroke="#000" stroke-width="0.6" />
<line x1="444.45" y1="271.82" x2="449.65" y2="271.82" stroke="#000" stroke-width="0.6" />
<rect x="442.25" y="272.99" width="9.60" height="40.71" fill="#e4e4e4" stroke="#000" stroke-width="1.3"/>
<line x1="350.00" y1="231.90" x2="350.00" y2="314.20" stroke="#000" stroke-width="1.0" />
<line x1="349.50" y1="313.70" x2="461.30" y2="313.70" stroke="#000" stroke-width="1.0" />
<line x1="347.30" y1="313.70" x2="350.00" y2="313.70" stroke="#000" stroke-width="1.0" />
<text x="347.10" y="315.50" font-size="5.0" font-weight="bold" text-anchor="end" fill="#000" stroke="#000" stroke-width="0.3" >0</text>
<line x1="347.30" y1="297.50" x2="350.00" y2="297.50" stroke="#000" stroke-width="1.0" />
<text x="347.10" y="299.30" font-size="5.0" font-weight="bold" text-anchor="end" fill="#000" stroke="#000" stroke-width="0.3" >20</text>
<line x1="347.30" y1="281.30" x2="350.00" y2="281.30" stroke="#000" stroke-width="1.0" />
<text x="347.10" y="283.10" font-size="5.0" font-weight="bold" text-anchor="end" fill="#000" stroke="#000" stroke-width="0.3" >40</text>
<line x1="347.30" y1="265.10" x2="350.00" y2="265.10" stroke="#000" stroke-width="1.0" />
<text x="347.10" y="266.90" font-size="5.0" font-weight="bold" text-anchor="end" fill="#000" stroke="#000" stroke-width="0.3" >60</text>
<line x1="347.30" y1="248.90" x2="350.00" y2="248.90" stroke="#000" stroke-width="1.0" />
<text x="347.10" y="250.70" font-size="5.0" font-weight="bold" text-anchor="end" fill="#000" stroke="#000" stroke-width="0.3" >80</text>
<line x1="347.30" y1="232.70" x2="350.00" y2="232.70" stroke="#000" stroke-width="1.0" />
<text x="347.10" y="234.50" font-size="5.0" font-weight="bold" text-anchor="end" fill="#000" stroke="#000" stroke-width="0.3" >100</text>
<line x1="377.20" y1="313.70" x2="377.20" y2="316.50" stroke="#000" stroke-width="1.0" />
<text transform="translate(380.20,322.10) rotate(-45)" font-size="5.7" font-weight="bold" text-anchor="end" stroke="#000" stroke-width="0.3">H292-CD19</text>
<line x1="431.70" y1="313.70" x2="431.70" y2="316.50" stroke="#000" stroke-width="1.0" />
<text transform="translate(434.70,322.10) rotate(-45)" font-size="5.7" font-weight="bold" text-anchor="end" stroke="#000" stroke-width="0.3">SKOV3-CD19</text>
<text transform="translate(330.30,271.40) rotate(-90)" font-size="6.6" font-weight="bold" text-anchor="middle" stroke="#000" stroke-width="0.3">% CD3<tspan dy="-2.2" font-size="3.8">+</tspan><tspan dy="2.2">CD4</tspan><tspan dy="-2.2" font-size="3.8">+</tspan><tspan dy="2.2">PD-L1</tspan><tspan dy="-2.2" font-size="3.8">+</tspan></text>
<line x1="377.60" y1="239.50" x2="391.70" y2="239.50" stroke="#3a3a3a" stroke-width="1.0" />
<line x1="377.60" y1="236.80" x2="377.60" y2="242.20" stroke="#3a3a3a" stroke-width="1.0" />
<line x1="391.70" y1="236.80" x2="391.70" y2="242.20" stroke="#3a3a3a" stroke-width="1.0" />
<text x="384.65" y="237.90" font-size="4.4" font-weight="bold" text-anchor="middle" fill="#222" stroke="#222" stroke-width="0.3" >*</text>
<line x1="431.90" y1="256.90" x2="446.90" y2="256.90" stroke="#3a3a3a" stroke-width="1.0" />
<line x1="431.90" y1="254.20" x2="431.90" y2="259.60" stroke="#3a3a3a" stroke-width="1.0" />
<line x1="446.90" y1="254.20" x2="446.90" y2="259.60" stroke="#3a3a3a" stroke-width="1.0" />
<text x="439.40" y="255.30" font-size="4.4" font-weight="bold" text-anchor="middle" fill="#222" stroke="#222" stroke-width="0.3" >**</text>
<rect x="465.80" y="229.10" width="8.60" height="4.30" fill="#fff" stroke="#000" stroke-width="1.15"/>
<text x="477.30" y="233.55" font-size="6.6" font-weight="normal" text-anchor="start" fill="#000" stroke="#000" stroke-width="0.12" >NT</text>
<rect x="465.80" y="237.55" width="8.60" height="4.30" fill="#000" stroke="#000" stroke-width="1.15"/>
<text x="477.30" y="242.00" font-size="6.6" font-weight="normal" text-anchor="start" fill="#000" stroke="#000" stroke-width="0.12" >CAR19</text>
<rect x="465.80" y="246.00" width="8.60" height="4.30" fill="#e4e4e4" stroke="#000" stroke-width="1.15"/>
<text x="477.30" y="250.45" font-size="6.6" font-weight="normal" text-anchor="start" fill="#000" stroke="#000" stroke-width="0.12" >CAR19.αPD1</text>
<text x="316.3" y="12.7" font-size="13" font-weight="bold" stroke="#000" stroke-width="0.35">C</text>
<line x1="380.30" y1="14.43" x2="380.30" y2="12.25" stroke="#000" stroke-width="0.6" />
<line x1="377.70" y1="12.25" x2="382.90" y2="12.25" stroke="#000" stroke-width="0.6" />
<rect x="375.55" y="15.03" width="9.50" height="66.47" fill="#000" stroke="#000" stroke-width="1.3"/>
<line x1="395.40" y1="17.35" x2="395.40" y2="17.06" stroke="#000" stroke-width="0.6" />
<line x1="392.80" y1="17.06" x2="398.00" y2="17.06" stroke="#000" stroke-width="0.6" />
<rect x="390.65" y="17.95" width="9.50" height="63.55" fill="#e4e4e4" stroke="#000" stroke-width="1.3"/>
<rect x="416.05" y="81.17" width="9.50" height="0.33" fill="#fff" stroke="#222" stroke-width="0.9"/>
<line x1="435.50" y1="28.28" x2="435.50" y2="26.83" stroke="#000" stroke-width="0.6" />
<line x1="432.90" y1="26.83" x2="438.10" y2="26.83" stroke="#000" stroke-width="0.6" />
<rect x="430.65" y="28.88" width="9.70" height="52.62" fill="#000" stroke="#000" stroke-width="1.3"/>
<line x1="450.60" y1="38.85" x2="450.60" y2="38.12" stroke="#000" stroke-width="0.6" />
<line x1="448.00" y1="38.12" x2="453.20" y2="38.12" stroke="#000" stroke-width="0.6" />
<rect x="445.85" y="39.45" width="9.50" height="42.05" fill="#e4e4e4" stroke="#000" stroke-width="1.3"/>
<line x1="352.40" y1="8.10" x2="352.40" y2="82.00" stroke="#000" stroke-width="1.0" />
<line x1="351.90" y1="81.50" x2="464.00" y2="81.50" stroke="#000" stroke-width="1.0" />
<line x1="349.70" y1="81.50" x2="352.40" y2="81.50" stroke="#000" stroke-width="1.0" />
<text x="349.50" y="83.30" font-size="5.0" font-weight="bold" text-anchor="end" fill="#000" stroke="#000" stroke-width="0.3" >0</text>
<line x1="349.70" y1="66.92" x2="352.40" y2="66.92" stroke="#000" stroke-width="1.0" />
<text x="349.50" y="68.72" font-size="5.0" font-weight="bold" text-anchor="end" fill="#000" stroke="#000" stroke-width="0.3" >20</text>
<line x1="349.70" y1="52.34" x2="352.40" y2="52.34" stroke="#000" stroke-width="1.0" />
<text x="349.50" y="54.14" font-size="5.0" font-weight="bold" text-anchor="end" fill="#000" stroke="#000" stroke-width="0.3" >40</text>
<line x1="349.70" y1="37.76" x2="352.40" y2="37.76" stroke="#000" stroke-width="1.0" />
<text x="349.50" y="39.56" font-size="5.0" font-weight="bold" text-anchor="end" fill="#000" stroke="#000" stroke-width="0.3" >60</text>
<line x1="349.70" y1="23.18" x2="352.40" y2="23.18" stroke="#000" stroke-width="1.0" />
<text x="349.50" y="24.98" font-size="5.0" font-weight="bold" text-anchor="end" fill="#000" stroke="#000" stroke-width="0.3" >80</text>
<line x1="349.70" y1="8.60" x2="352.40" y2="8.60" stroke="#000" stroke-width="1.0" />
<text x="349.50" y="10.40" font-size="5.0" font-weight="bold" text-anchor="end" fill="#000" stroke="#000" stroke-width="0.3" >100</text>
<line x1="380.30" y1="81.50" x2="380.30" y2="84.30" stroke="#000" stroke-width="1.0" />
<text transform="translate(383.30,89.30) rotate(-45)" font-size="5.8" font-weight="bold" text-anchor="end" stroke="#000" stroke-width="0.3">H292-CD19</text>
<line x1="435.20" y1="81.50" x2="435.20" y2="84.30" stroke="#000" stroke-width="1.0" />
<text transform="translate(438.20,89.30) rotate(-45)" font-size="5.8" font-weight="bold" text-anchor="end" stroke="#000" stroke-width="0.3">SKOV3-CD19</text>
<text transform="translate(333.30,43.60) rotate(-90)" font-size="6.0" font-weight="bold" text-anchor="middle" stroke="#000" stroke-width="0.3">% CD3<tspan dy="-2.2" font-size="3.8">+</tspan><tspan dy="2.2">CD8</tspan><tspan dy="-2.2" font-size="3.8">+</tspan><tspan dy="2.2">LAG-3</tspan><tspan dy="-2.2" font-size="3.8">+</tspan></text>
<line x1="380.20" y1="8.40" x2="394.90" y2="8.40" stroke="#3a3a3a" stroke-width="1.0" />
<line x1="380.20" y1="5.70" x2="380.20" y2="11.10" stroke="#3a3a3a" stroke-width="1.0" />
<line x1="394.90" y1="5.70" x2="394.90" y2="11.10" stroke="#3a3a3a" stroke-width="1.0" />
<text x="387.55" y="5.00" font-size="6.0" font-weight="bold" text-anchor="middle" fill="#000" stroke="#000" stroke-width="0.3" >ns</text>
<line x1="435.30" y1="22.20" x2="450.30" y2="22.20" stroke="#3a3a3a" stroke-width="1.0" />
<line x1="435.30" y1="19.50" x2="435.30" y2="24.90" stroke="#3a3a3a" stroke-width="1.0" />
<line x1="450.30" y1="19.50" x2="450.30" y2="24.90" stroke="#3a3a3a" stroke-width="1.0" />
<text x="442.80" y="20.60" font-size="4.4" font-weight="bold" text-anchor="middle" fill="#222" stroke="#222" stroke-width="0.3" >**</text>
<rect x="466.80" y="11.30" width="8.60" height="4.30" fill="#fff" stroke="#000" stroke-width="1.15"/>
<text x="478.30" y="15.75" font-size="6.6" font-weight="normal" text-anchor="start" fill="#000" stroke="#000" stroke-width="0.12" >NT</text>
<rect x="466.80" y="19.75" width="8.60" height="4.30" fill="#000" stroke="#000" stroke-width="1.15"/>
<text x="478.30" y="24.20" font-size="6.6" font-weight="normal" text-anchor="start" fill="#000" stroke="#000" stroke-width="0.12" >CAR19</text>
<rect x="466.80" y="28.20" width="8.60" height="4.30" fill="#e4e4e4" stroke="#000" stroke-width="1.15"/>
<text x="478.30" y="32.65" font-size="6.6" font-weight="normal" text-anchor="start" fill="#000" stroke="#000" stroke-width="0.12" >CAR19.αPD1</text>
<text x="316.3" y="121.7" font-size="13" font-weight="bold" stroke="#000" stroke-width="0.35">D</text>
<rect x="360.45" y="193.45" width="9.80" height="1.05" fill="#fff" stroke="#222" stroke-width="0.9"/>
<line x1="380.30" y1="139.92" x2="380.30" y2="129.78" stroke="#000" stroke-width="0.6" />
<line x1="377.70" y1="129.78" x2="382.90" y2="129.78" stroke="#000" stroke-width="0.6" />
<rect x="375.55" y="140.52" width="9.50" height="53.98" fill="#000" stroke="#000" stroke-width="1.3"/>
<line x1="395.25" y1="151.03" x2="395.25" y2="149.58" stroke="#000" stroke-width="0.6" />
<line x1="392.65" y1="149.58" x2="397.85" y2="149.58" stroke="#000" stroke-width="0.6" />
<rect x="390.45" y="151.63" width="9.60" height="42.87" fill="#e4e4e4" stroke="#000" stroke-width="1.3"/>
<rect x="415.05" y="186.41" width="8.90" height="8.09" fill="#fff" stroke="#000" stroke-width="1.3"/>
<line x1="434.30" y1="165.04" x2="434.30" y2="159.72" stroke="#000" stroke-width="0.6" />
<line x1="431.70" y1="159.72" x2="436.90" y2="159.72" stroke="#000" stroke-width="0.6" />
<rect x="429.45" y="165.64" width="9.70" height="28.86" fill="#000" stroke="#000" stroke-width="1.3"/>
<line x1="449.35" y1="157.79" x2="449.35" y2="156.58" stroke="#000" stroke-width="0.6" />
<line x1="446.75" y1="156.58" x2="451.95" y2="156.58" stroke="#000" stroke-width="0.6" />
<rect x="444.45" y="158.39" width="9.80" height="36.11" fill="#e4e4e4" stroke="#000" stroke-width="1.3"/>
<line x1="352.80" y1="121.40" x2="352.80" y2="195.00" stroke="#000" stroke-width="1.0" />
<line x1="352.30" y1="194.50" x2="464.00" y2="194.50" stroke="#000" stroke-width="1.0" />
<line x1="350.10" y1="194.50" x2="352.80" y2="194.50" stroke="#000" stroke-width="1.0" />
<text x="349.90" y="196.30" font-size="5.0" font-weight="bold" text-anchor="end" fill="#000" stroke="#000" stroke-width="0.3" >0</text>
<line x1="350.10" y1="170.35" x2="352.80" y2="170.35" stroke="#000" stroke-width="1.0" />
<text x="349.90" y="172.15" font-size="5.0" font-weight="bold" text-anchor="end" fill="#000" stroke="#000" stroke-width="0.3" >5</text>
<line x1="350.10" y1="146.20" x2="352.80" y2="146.20" stroke="#000" stroke-width="1.0" />
<text x="349.90" y="148.00" font-size="5.0" font-weight="bold" text-anchor="end" fill="#000" stroke="#000" stroke-width="0.3" >10</text>
<line x1="350.10" y1="122.05" x2="352.80" y2="122.05" stroke="#000" stroke-width="1.0" />
<text x="349.90" y="123.85" font-size="5.0" font-weight="bold" text-anchor="end" fill="#000" stroke="#000" stroke-width="0.3" >15</text>
<line x1="380.10" y1="194.50" x2="380.10" y2="197.30" stroke="#000" stroke-width="1.0" />
<text transform="translate(383.10,202.00) rotate(-45)" font-size="5.7" font-weight="bold" text-anchor="end" stroke="#000" stroke-width="0.3">H292-CD19</text>
<line x1="434.70" y1="194.50" x2="434.70" y2="197.30" stroke="#000" stroke-width="1.0" />
<text transform="translate(437.70,202.00) rotate(-45)" font-size="5.7" font-weight="bold" text-anchor="end" stroke="#000" stroke-width="0.3">SKOV3-CD19</text>
<text transform="translate(337.80,157.20) rotate(-90)" font-size="5.9" font-weight="bold" text-anchor="middle" stroke="#000" stroke-width="0.3">% CD3<tspan dy="-2.2" font-size="3.8">+</tspan><tspan dy="2.2">CD8</tspan><tspan dy="-2.2" font-size="3.8">+</tspan><tspan dy="2.2">TIM-3</tspan><tspan dy="-2.2" font-size="3.8">+</tspan></text>
<line x1="380.20" y1="126.00" x2="394.70" y2="126.00" stroke="#3a3a3a" stroke-width="1.0" />
<line x1="380.20" y1="123.30" x2="380.20" y2="128.70" stroke="#3a3a3a" stroke-width="1.0" />
<line x1="394.70" y1="123.30" x2="394.70" y2="128.70" stroke="#3a3a3a" stroke-width="1.0" />
<text x="387.45" y="122.60" font-size="6.0" font-weight="bold" text-anchor="middle" fill="#000" stroke="#000" stroke-width="0.3" >ns</text>
<line x1="434.60" y1="152.20" x2="449.70" y2="152.20" stroke="#3a3a3a" stroke-width="1.0" />
<line x1="434.60" y1="149.50" x2="434.60" y2="154.90" stroke="#3a3a3a" stroke-width="1.0" />
<line x1="449.70" y1="149.50" x2="449.70" y2="154.90" stroke="#3a3a3a" stroke-width="1.0" />
<text x="442.15" y="148.80" font-size="6.0" font-weight="bold" text-anchor="middle" fill="#000" stroke="#000" stroke-width="0.3" >ns</text>
<rect x="466.80" y="125.30" width="8.60" height="4.30" fill="#fff" stroke="#000" stroke-width="1.15"/>
<text x="478.30" y="129.75" font-size="6.6" font-weight="normal" text-anchor="start" fill="#000" stroke="#000" stroke-width="0.12" >NT</text>
<rect x="466.80" y="133.75" width="8.60" height="4.30" fill="#000" stroke="#000" stroke-width="1.15"/>
<text x="478.30" y="138.20" font-size="6.6" font-weight="normal" text-anchor="start" fill="#000" stroke="#000" stroke-width="0.12" >CAR19</text>
<rect x="466.80" y="142.20" width="8.60" height="4.30" fill="#e4e4e4" stroke="#000" stroke-width="1.15"/>
<text x="478.30" y="146.65" font-size="6.6" font-weight="normal" text-anchor="start" fill="#000" stroke="#000" stroke-width="0.12" >CAR19.αPD1</text>
</g>
</svg>
</body></html>
